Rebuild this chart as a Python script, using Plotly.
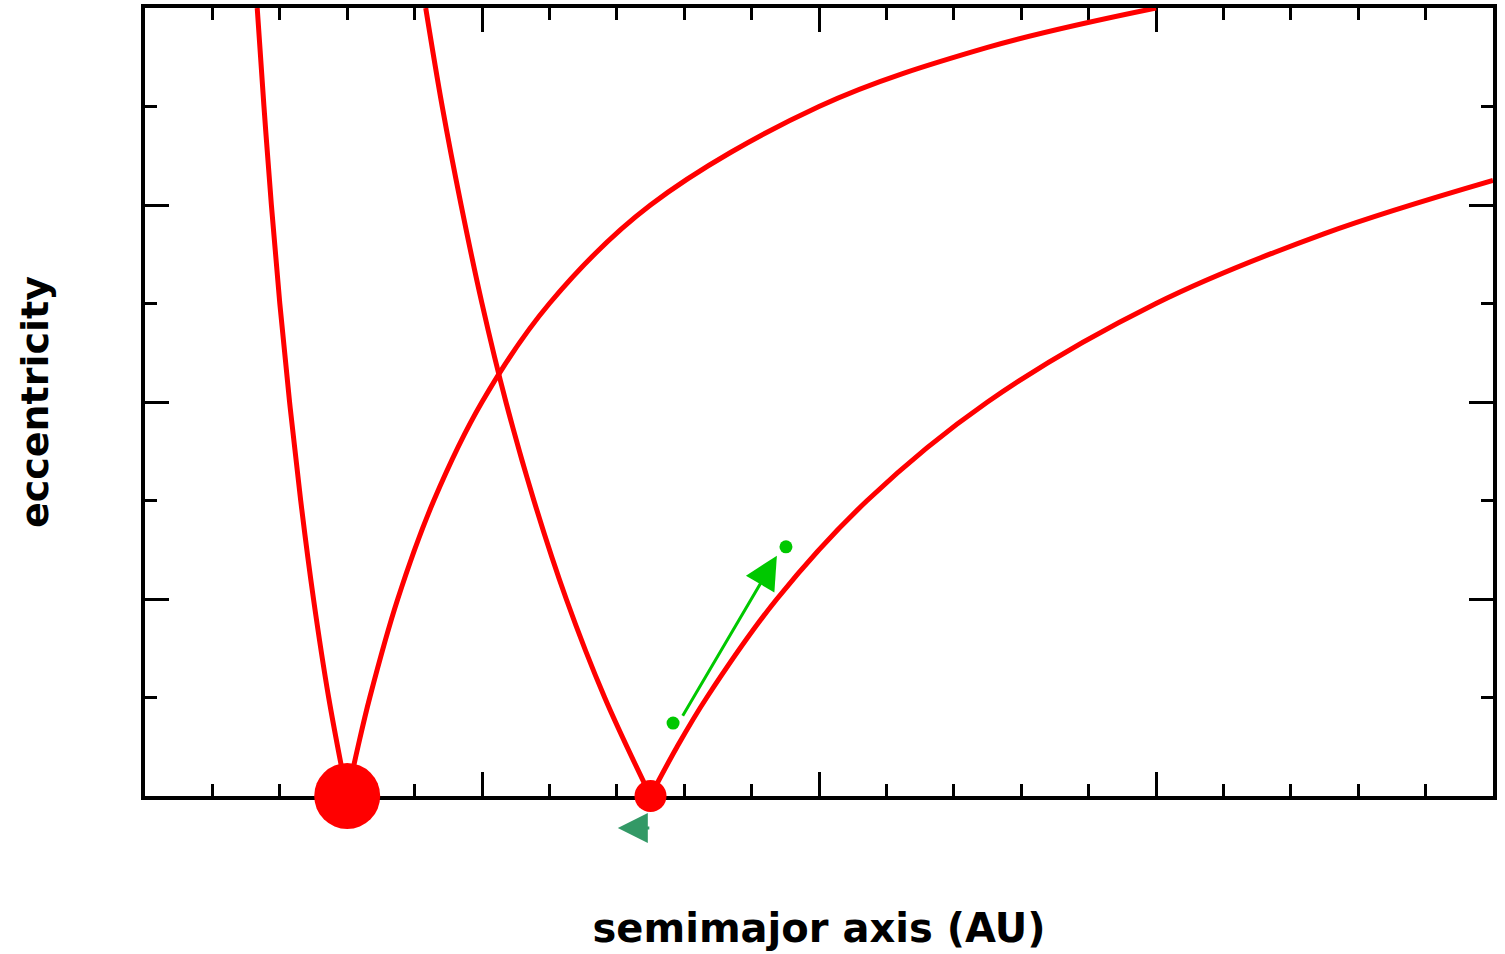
import plotly.graph_objects as go

# --- data ---
# inner curve of planet 1 (apoapsis at the planet)
c1_a = [0.333, 0.353, 0.375, 0.400, 0.429, 0.462, 0.500, 0.545, 0.600]
c1_e = [0.80, 0.70, 0.60, 0.50, 0.40, 0.30, 0.20, 0.10, 0.00]
# outer curve of planet 1 (periapsis at the planet)
c2_a = [0.600, 0.632, 0.667, 0.750, 0.857, 1.000, 1.200, 1.500, 2.000, 2.500, 3.000]
c2_e = [0.00, 0.05, 0.10, 0.20, 0.30, 0.40, 0.50, 0.60, 0.70, 0.76, 0.80]
# inner curve of planet 2
c3_a = [0.833, 0.882, 0.938, 1.000, 1.071, 1.154, 1.250, 1.364, 1.500]
c3_e = [0.80, 0.70, 0.60, 0.50, 0.40, 0.30, 0.20, 0.10, 0.00]
# outer curve of planet 2
c4_a = [1.500, 1.579, 1.667, 1.875, 2.143, 2.500, 3.000, 3.500, 4.000]
c4_e = [0.00, 0.05, 0.10, 0.20, 0.30, 0.40, 0.50, 0.571, 0.625]

planet_a = [0.6, 1.5]
planet_e = [0.0, 0.0]
planet_size = [66, 32]

green_a = [1.567, 1.902]
green_e = [0.074, 0.253]
green_tip = (1.875, 0.244)
green_tail = (1.593, 0.080)

drift_tip_a = 1.403
drift_tip_paper_y = -0.0406   # just below the x axis

x_range = [0, 4]
y_range = [0, 0.8]

RED = "#ff0000"
GREEN = "#00c800"
DKGREEN = "#339966"

fig = go.Figure()
for xa, ya in [(c1_a, c1_e), (c2_a, c2_e), (c3_a, c3_e), (c4_a, c4_e)]:
    fig.add_trace(go.Scatter(x=xa, y=ya, mode="lines",
                             line=dict(color=RED, width=5, shape="spline", smoothing=1.0),
                             showlegend=False, hoverinfo="skip"))

fig.add_trace(go.Scatter(x=planet_a, y=planet_e, mode="markers",
                         marker=dict(color=RED, size=planet_size, opacity=1, line=dict(width=0)),
                         cliponaxis=False, showlegend=False))

fig.add_trace(go.Scatter(x=green_a, y=green_e, mode="markers",
                         marker=dict(color=GREEN, size=13, opacity=1, line=dict(width=0)),
                         cliponaxis=False, showlegend=False))

fig.add_annotation(x=green_tip[0], y=green_tip[1], ax=green_tail[0], ay=green_tail[1],
                   xref="x", yref="y", axref="x", ayref="y", text="",
                   showarrow=True, arrowhead=2, arrowsize=2.2, arrowwidth=3,
                   arrowcolor=GREEN, standoff=0)
fig.add_annotation(x=drift_tip_a, y=drift_tip_paper_y, ax=33, ay=0,
                   xref="x", yref="paper", axref="pixel", ayref="pixel", text="",
                   showarrow=True, arrowhead=2, arrowsize=2.0, arrowwidth=3,
                   arrowcolor=DKGREEN, standoff=0)

axis_common = dict(showgrid=False, zeroline=False, showline=True, linecolor="black",
                   linewidth=4, mirror="ticks", ticks="inside", tickcolor="black",
                   tickwidth=3, showticklabels=False, layer="below traces")

fig.update_xaxes(range=x_range, dtick=1, tick0=0, ticklen=24,
                 minor=dict(ticks="inside", dtick=0.2, ticklen=12, tickwidth=3,
                            tickcolor="black", showgrid=False),
                 title=dict(text="semimajor axis (AU)", standoff=116,
                            font=dict(family="DejaVu Sans", size=40, color="black", weight="bold")),
                 **axis_common)
fig.update_yaxes(range=y_range, dtick=0.2, tick0=0, ticklen=24,
                 minor=dict(ticks="inside", dtick=0.1, ticklen=12, tickwidth=3,
                            tickcolor="black", showgrid=False),
                 title=dict(text="eccentricity", standoff=82,
                            font=dict(family="DejaVu Sans", size=38, color="black", weight="bold")),
                 **axis_common)

fig.update_layout(width=1505, height=954,
                  margin=dict(l=145, r=12, t=8, b=158, autoexpand=False),
                  paper_bgcolor="white", plot_bgcolor="white", showlegend=False)

fig.write_html("out.html")
